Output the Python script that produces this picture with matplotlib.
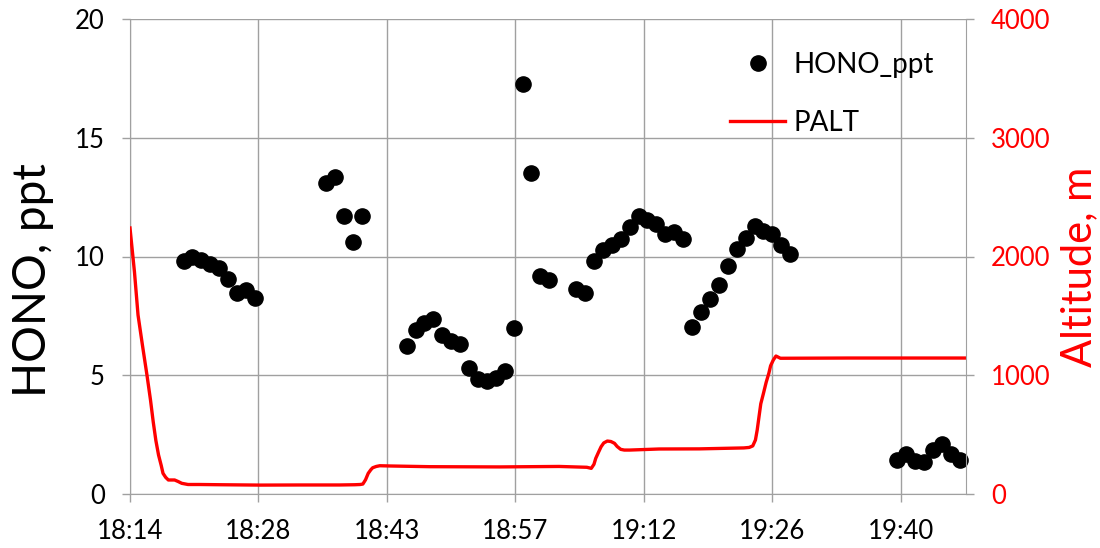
import matplotlib as mpl
mpl.use('Agg')
import matplotlib.pyplot as plt
from matplotlib.lines import Line2D
from matplotlib.ticker import FixedLocator, FuncFormatter
import numpy as np

plt.rcParams['font.family'] = ['Lato', 'DejaVu Sans']

# HONO measurements, time in minutes after midnight
hono_min = [1100.4, 1101.4, 1102.4, 1103.4, 1104.4, 1105.4, 1106.4, 1107.4, 1108.4,
            1116.4, 1117.4, 1118.4, 1119.4, 1120.4,
            1125.4, 1126.4, 1127.4, 1128.4, 1129.4, 1130.4, 1131.4, 1132.4, 1133.4,
            1134.4, 1135.4, 1136.4, 1137.4, 1138.4, 1139.4, 1140.4, 1141.4,
            1144.4, 1145.4, 1146.4, 1147.4, 1148.4, 1149.4, 1150.4, 1151.4, 1152.4,
            1153.4, 1154.4, 1155.4, 1156.4,
            1157.4, 1158.4, 1159.4, 1160.4, 1161.4, 1162.4, 1163.4, 1164.4, 1165.4,
            1166.4, 1167.4, 1168.4,
            1180.4, 1181.4, 1182.4, 1183.4, 1184.4, 1185.4, 1186.4, 1187.4]
hono_ppt = [9.8, 10.0, 9.85, 9.7, 9.5, 9.05, 8.45, 8.6, 8.25,
            13.1, 13.35, 11.7, 10.6, 11.7,
            6.25, 6.9, 7.2, 7.35, 6.7, 6.45, 6.3, 5.3, 4.85,
            4.75, 4.9, 5.2, 7.0, 17.25, 13.5, 9.2, 9.0,
            8.65, 8.45, 9.8, 10.27, 10.5, 10.75, 11.25, 11.7, 11.55,
            11.35, 10.95, 11.05, 10.72,
            7.02, 7.65, 8.2, 8.8, 9.6, 10.3, 10.8, 11.3, 11.07,
            10.93, 10.5, 10.1,
            1.43, 1.7, 1.4, 1.36, 1.85, 2.1, 1.68, 1.43]

# aircraft pressure altitude
palt_min = [1094.4, 1094.9, 1095.3, 1095.8, 1096.3, 1096.7, 1097.0, 1097.3, 1097.6,
            1097.9, 1098.1, 1098.4, 1098.7, 1099.4, 1099.8, 1100.2,
            1100.9, 1102.2, 1104.5, 1109.0, 1113.4, 1117.9, 1119.6, 1120.2, 1120.5,
            1120.8, 1121.1, 1121.4, 1121.6, 1122.0, 1122.4, 1123.5, 1128.0, 1135.8,
            1142.5, 1145.6, 1146.1, 1146.4, 1146.6, 1146.9, 1147.2, 1147.5, 1147.9,
            1148.3, 1148.7, 1149.0, 1149.4, 1149.8, 1150.4, 1153.7, 1158.2, 1163.2,
            1163.8, 1164.2, 1164.5, 1164.7, 1164.9, 1165.1, 1165.4, 1165.7, 1166.0,
            1166.2, 1166.5, 1166.8, 1167.3, 1175.0, 1188.1]
palt_m = [2240, 1870, 1507, 1250, 1002, 790, 609, 450, 328,
          240, 174, 140, 118, 118, 105, 90,
          80, 80, 78, 75, 76, 76, 78, 80, 84,
          120, 174, 205, 221, 232, 238, 236, 230, 228,
          232, 225, 216, 250, 300, 350, 398, 430, 446,
          442, 427, 400, 376, 370, 370, 379, 380, 388,
          392, 405, 455, 540, 651, 760, 848, 940, 1016,
          1080, 1128, 1162, 1143, 1145, 1145]

grid_c = '#a0a0a0'

fig = plt.figure(figsize=(11, 5.48), dpi=100)
ax = fig.add_axes([130/1100, 54/548, 836/1100, 475/548])
ax2 = ax.twinx()

ax.scatter(hono_min, hono_ppt, s=120, color='black', zorder=3, clip_on=False)
ax2.plot(palt_min, palt_m, color='red', lw=2.4, solid_joinstyle='round')

ax.set_xlim(1094.4, 1188.1)
ax.set_ylim(0, 20)
ax2.set_ylim(0, 4000)

ax.xaxis.set_major_locator(FixedLocator(np.arange(1094.4, 1188, 14.4)))
def hhmm(x, pos):
    m = int(np.floor(x + 1e-6))
    return '%d:%02d' % (m // 60, m % 60)
ax.xaxis.set_major_formatter(FuncFormatter(hhmm))
ax.set_yticks([0, 5, 10, 15, 20])
ax2.set_yticks([0, 1000, 2000, 3000, 4000])

ax.grid(True, color=grid_c, lw=1.0)
ax.set_axisbelow(True)
for a in (ax, ax2):
    for s in a.spines.values():
        s.set_visible(False)
ax.spines['left'].set_visible(True)
ax.spines['left'].set_color(grid_c)
ax.spines['bottom'].set_visible(True)
ax.spines['bottom'].set_color(grid_c)
ax2.spines['right'].set_visible(True)
ax2.spines['right'].set_color(grid_c)

ax.tick_params(axis='both', direction='out', length=6, width=1, color=grid_c,
               labelsize=18.5, pad=12, labelcolor='black')
ax2.tick_params(axis='y', direction='out', length=6, width=1, color=grid_c,
                labelsize=18.5, pad=12, labelcolor='red')

ax.set_ylabel('HONO, ppt', fontsize=33, labelpad=15)
ax.yaxis.label.set_y(0.45)
ax2.set_ylabel('Altitude, m', fontsize=30, color='red', labelpad=7)
ax2.yaxis.label.set_y(0.478)

handles = [Line2D([], [], ls='none', marker='o', color='black', markersize=11),
           Line2D([], [], color='red', lw=2.4)]
ax2.legend(handles, ['HONO_ppt', 'PALT'], loc='upper left', frameon=False,
           bbox_to_anchor=(716/1100, 1 - 38/548), bbox_transform=fig.transFigure,
           fontsize=20, borderpad=0, handlelength=2.0, handletextpad=0.3,
           labelspacing=1.15)

fig.savefig('out.png', dpi=100)
